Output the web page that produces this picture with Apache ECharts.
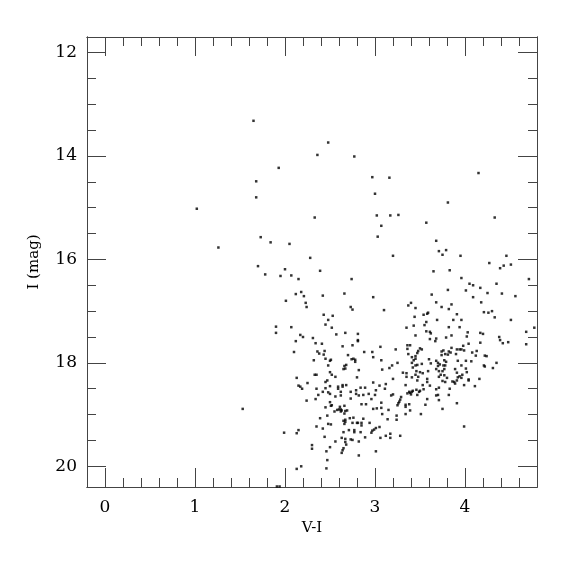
<!DOCTYPE html>
<html>
<head>
<meta charset="utf-8">
<script src="https://cdn.jsdelivr.net/npm/echarts@6/dist/echarts.min.js"></script>
<style>html,body{margin:0;padding:0;background:#fff}#chart{width:575px;height:575px}</style>
</head>
<body>
<div id="chart"></div>
<script>
// Axis tick values
var xMajorTicks = [0, 1, 2, 3, 4];
var yMajorTicks = [12, 14, 16, 18, 20];
var xLabel = 'V-I';
var yLabel = 'I (mag)';

// Stars [V-I, I] — bright / upper part of diagram
var upperStars = [
[1.65,13.32],[1.93,14.23],[1.68,14.49],[1.68,14.80],[1.02,15.02],[1.73,15.57],[1.84,15.67],[2.05,15.70],[1.26,15.77],[1.70,16.13],[2.00,16.19],[1.78,16.29],[1.95,16.32],[2.07,16.31],[2.15,16.38],
[2.48,13.74],[2.36,13.98],[2.77,14.01],[2.97,14.41],[3.16,14.42],[4.15,14.33],[3.00,14.73],[3.81,14.90],[2.33,15.19],[3.02,15.15],[3.17,15.15],[3.26,15.14],[4.33,15.19],[3.07,15.35],[3.57,15.29],[3.03,15.56],[3.68,15.64],[3.71,15.84],[3.79,15.82],[3.75,15.91],[3.95,15.93],[4.46,15.93],[2.28,15.97],[3.20,15.93],[4.27,16.07],[4.51,16.10],[4.43,16.12],[4.39,16.17],[2.39,16.22],[3.65,16.23],[3.83,16.21],[3.96,16.36],[2.74,16.38],[4.71,16.38]
];

// Blue side (V-I < ~2.6)
var blueStars = [
[2.18,16.63],[2.12,16.67],[2.21,16.71],[2.42,16.70],[2.01,16.80],[2.23,16.84],[2.24,16.92],[2.43,17.07],[2.53,17.09],[2.48,17.17],[2.45,17.26],[2.52,17.32],[1.90,17.30],[1.90,17.42],[2.07,17.31],[2.57,17.45],[2.17,17.46],[2.20,17.50],[2.31,17.52],[2.12,17.58],[2.34,17.62],[2.41,17.63],[2.44,17.77],[2.36,17.78],[2.38,17.82],[2.43,17.84],[2.10,17.79],[2.32,17.95],[2.45,17.92],[2.50,17.96],[2.51,17.94],[2.48,18.05],[2.33,18.23],[2.35,18.23],[2.50,18.18],[2.52,18.23],[2.13,18.29],[2.56,18.27],
[1.53,18.89],[1.99,19.35],[2.13,19.36],[2.15,19.30],[2.25,18.39],[2.15,18.44],[2.17,18.46],[2.19,18.50],[2.35,18.50],[2.42,18.56],[2.37,18.62],[2.45,18.37],[2.47,18.34],[2.45,18.49],[2.50,18.45],[2.48,18.57],[2.50,18.60],[2.59,18.50],[2.59,18.46],[2.56,18.65],[2.34,18.70],[2.24,18.73],[2.50,18.76],[2.52,18.82],[2.51,18.83],[2.45,18.86],[2.55,18.94],[2.58,18.91],[2.60,18.90],[2.47,19.02],[2.39,19.07],[2.48,19.18],[2.51,19.19],[2.35,19.23],[2.42,19.27],[2.44,19.43],[2.56,19.52],[2.50,19.63],[2.30,19.59],[2.30,19.66],[2.46,19.71],[2.47,19.88],[2.46,20.04],[2.18,20.00],[2.13,20.05],[1.91,20.39],[1.94,20.39]
];

// Middle (V-I ~2.6 - 3.7)
var middleStars = [
[2.66,16.66],[2.98,16.73],[3.63,16.68],[3.68,16.83],[3.40,16.84],[3.37,16.89],[3.45,16.94],[2.73,16.92],[2.75,16.97],[3.10,16.98],[3.59,17.03],[3.58,17.05],[3.54,17.07],[3.44,17.11],[3.69,17.17],[3.57,17.21],[3.55,17.27],[3.43,17.28],[3.35,17.32],[3.61,17.40],[3.57,17.39],[3.62,17.43],[2.67,17.42],[2.81,17.44],[3.45,17.47],[2.81,17.56],[2.81,17.58],[3.61,17.54],[3.67,17.58],[3.68,17.53],[2.64,17.68],[2.75,17.66],[3.06,17.69],[3.36,17.66],[3.39,17.66],[3.36,17.73],[3.23,17.74],[3.50,17.72],[3.52,17.74],[3.48,17.77],[3.47,17.81],[2.88,17.79],[2.97,17.79],[3.37,17.83],[2.70,17.85],[2.98,17.89],[3.45,17.87],[3.41,17.89],[3.45,17.92],[2.76,17.92],[2.78,17.94],[2.74,17.93],[3.60,17.93],[3.07,17.95],[2.78,17.98],[3.43,17.95],[3.41,18.00],[3.68,17.96],[3.25,18.00],[3.62,18.01],[2.68,18.04],[2.66,18.06],[3.19,18.05],[3.45,18.05],[3.47,18.04],[3.52,18.02],[3.70,18.00],[3.70,18.06],[3.42,18.09],[3.16,18.10],[2.65,18.12],[2.67,18.11],[3.08,18.13],[2.82,18.14],[3.59,18.16],[3.68,18.12],[3.71,18.16],[3.31,18.19],[3.35,18.20],[3.46,18.16],[3.50,18.18],[3.53,18.20],[3.45,18.23],[3.35,18.27],[3.41,18.28],[3.48,18.27],[2.80,18.28],[3.20,18.31],[3.58,18.31],[3.71,18.27],
[2.64,18.43],[2.64,18.46],[2.68,18.43],[2.62,18.56],[2.62,18.63],[2.73,18.56],[2.79,18.53],[2.79,18.60],[2.84,18.48],[2.89,18.48],[2.82,18.63],[2.87,18.62],[2.93,18.60],[2.98,18.38],[3.05,18.44],[3.12,18.41],[3.11,18.50],[3.00,18.62],[3.01,18.53],[2.73,18.69],[2.96,18.70],[3.34,18.43],[3.20,18.61],[3.18,18.63],[3.29,18.66],[3.36,18.59],[3.38,18.56],[3.39,18.58],[3.41,18.56],[3.40,18.61],[3.42,18.54],[3.46,18.52],[3.49,18.56],[3.50,18.54],[3.47,18.34],[3.53,18.43],[3.58,18.37],[3.61,18.44],[3.54,18.51],[3.68,18.51],[3.71,18.48],[3.70,18.62],[3.68,18.63],[3.71,18.72],[3.58,18.70],[3.56,18.81],[3.47,18.62],[3.07,18.77],[3.28,18.71],[3.27,18.75],[3.26,18.78],[3.25,18.82],[3.34,18.81],[3.38,18.80],[3.34,18.85],[3.39,18.92],[3.34,18.99],[2.61,18.85],[2.62,18.90],[2.66,18.83],[2.67,18.93],[2.62,18.94],[2.69,18.92],[2.66,18.98],[2.63,18.92],[2.98,18.89],[3.02,18.88],[2.90,18.80],[2.85,18.80],[3.15,18.91],[3.07,18.87],[3.08,18.99],[2.76,19.06],[2.72,19.07],[2.67,19.10],[2.65,19.12],[2.67,19.14],[2.66,19.18],[2.75,19.16],[2.80,19.16],[2.81,19.16],[2.85,19.16],[2.85,19.21],[2.87,19.08],[2.94,19.16],[3.05,19.24],[3.14,19.09],[3.24,19.02],[3.24,19.10],[3.01,19.26],[2.99,19.29],[2.97,19.31],[2.96,19.35],[2.77,19.30],[2.77,19.34],[2.71,19.30],[2.65,19.34],[2.84,19.34],[2.89,19.44],[2.82,19.52],[2.73,19.48],[2.75,19.49],[2.63,19.45],[2.67,19.47],[2.67,19.53],[2.68,19.58],[2.65,19.65],[2.64,19.69],[2.63,19.74],[3.06,19.45],[3.12,19.41],[3.17,19.37],[3.17,19.45],[3.28,19.41],[3.01,19.71],[2.82,19.79],[3.51,18.99]
];

// Red side (V-I > ~3.7)
var redStars = [
[4.05,16.47],[4.09,16.50],[4.17,16.55],[4.35,16.47],[3.81,16.59],[4.01,16.60],[4.25,16.65],[4.41,16.66],[4.09,16.73],[4.56,16.71],[4.18,16.83],[3.85,16.87],[3.74,16.92],[3.82,16.96],[4.21,17.02],[4.26,17.03],[4.30,17.00],[3.91,17.06],[4.33,17.12],[3.87,17.17],[3.96,17.17],[4.51,17.17],[3.82,17.31],[3.94,17.31],[4.77,17.32],[4.03,17.41],[4.17,17.42],[4.20,17.44],[4.68,17.40],[3.85,17.47],[4.02,17.49],[4.38,17.50],[3.79,17.51],[4.39,17.56],[4.17,17.61],[4.48,17.60],[4.42,17.62],[4.68,17.64],[4.04,17.63],[3.98,17.67],[3.85,17.71],[3.91,17.74],[3.94,17.74],[3.96,17.74],[3.99,17.76],[4.13,17.77],[3.76,17.76],[3.82,17.78],[3.74,17.78],[4.08,17.80],[3.78,17.83],[3.81,17.84],[3.84,17.80],[3.74,17.85],[4.12,17.86],[4.22,17.86],[4.24,17.87],[3.90,17.83],[3.77,17.95],[3.79,17.98],[4.01,17.96],[4.07,17.97],[3.92,17.96],[4.35,18.00],[3.76,18.05],[3.78,18.05],[3.72,18.03],[3.96,18.05],[4.21,18.05],[4.22,18.07],[4.31,18.10],[3.77,18.12],[3.89,18.12],[4.01,18.11],[3.75,18.16],[3.91,18.19],[4.02,18.18],[3.73,18.23],[3.77,18.24],[3.94,18.26],[3.97,18.23],[3.92,18.28],[3.96,18.29],[3.80,18.29],[4.04,18.32],[4.16,18.31],
[3.75,18.35],[3.78,18.37],[3.86,18.36],[3.88,18.37],[3.89,18.40],[3.91,18.34],[4.04,18.34],[3.99,18.43],[4.11,18.45],[3.83,18.50],[3.82,18.62],[3.91,18.78],[3.75,18.89],[3.99,19.23]
];

var X_MIN = -0.2, X_MAX = 4.8, Y_MIN = 11.7, Y_MAX = 20.4;
function range(a, b, step) { var r = []; for (var v = a; v <= b + 1e-9; v += step) r.push(Math.round(v * 100) / 100); return r; }
var xMinor = range(0.2, 4.6, 0.2).filter(function (v) { return xMajorTicks.indexOf(v) < 0; });
var yMinor = range(12, 20, 0.5).filter(function (v) { return yMajorTicks.indexOf(v) < 0; });

var FONT = 'DejaVu Serif';
var lineCol = '#444';

function xAx(pos, ticks, len, labels, name) {
  return {
    type: 'value', position: pos, min: X_MIN, max: X_MAX,
    name: name || '', nameLocation: 'middle', nameGap: 30,
    nameTextStyle: { fontFamily: FONT, fontSize: 15, color: '#000' },
    axisLine: { show: true, onZero: false, lineStyle: { color: lineCol, width: 1 } },
    axisTick: { show: true, inside: true, length: len, customValues: ticks, lineStyle: { color: lineCol, width: 1 } },
    axisLabel: labels ? { show: true, customValues: xMajorTicks, margin: 12, fontFamily: FONT, fontSize: 17, color: '#000' } : { show: false },
    splitLine: { show: false }
  };
}
function yAx(pos, ticks, len, labels, name) {
  return {
    type: 'value', position: pos, min: Y_MIN, max: Y_MAX, inverse: true,
    name: name || '', nameLocation: 'middle', nameGap: 45, nameRotate: 90,
    nameTextStyle: { fontFamily: FONT, fontSize: 15, color: '#000' },
    axisLine: { show: true, onZero: false, lineStyle: { color: lineCol, width: 1 } },
    axisTick: { show: true, inside: true, length: len, customValues: ticks, lineStyle: { color: lineCol, width: 1 } },
    axisLabel: labels ? { show: true, customValues: yMajorTicks, margin: 10, fontFamily: FONT, fontSize: 17, color: '#000' } : { show: false },
    splitLine: { show: false }
  };
}

var allStars = upperStars.concat(blueStars, middleStars, redStars);

var chart = echarts.init(document.getElementById('chart'), null, { renderer: 'canvas' });
chart.setOption({
  animation: false,
  backgroundColor: '#fff',
  grid: { left: 87, top: 37, width: 450, height: 450, containLabel: false },
  xAxis: [
    xAx('bottom', xMajorTicks, 19, true, xLabel),
    xAx('bottom', xMinor, 9, false),
    xAx('top', xMajorTicks, 19, false),
    xAx('top', xMinor, 9, false)
  ],
  yAxis: [
    yAx('left', yMajorTicks, 19, true, yLabel),
    yAx('left', yMinor, 9, false),
    yAx('right', yMajorTicks, 19, false),
    yAx('right', yMinor, 9, false)
  ],
  series: [{
    type: 'scatter', xAxisIndex: 0, yAxisIndex: 0,
    data: allStars, symbol: 'rect', symbolSize: 2.5,
    itemStyle: { color: '#000' }, silent: true
  }]
});
</script>
</body>
</html>
